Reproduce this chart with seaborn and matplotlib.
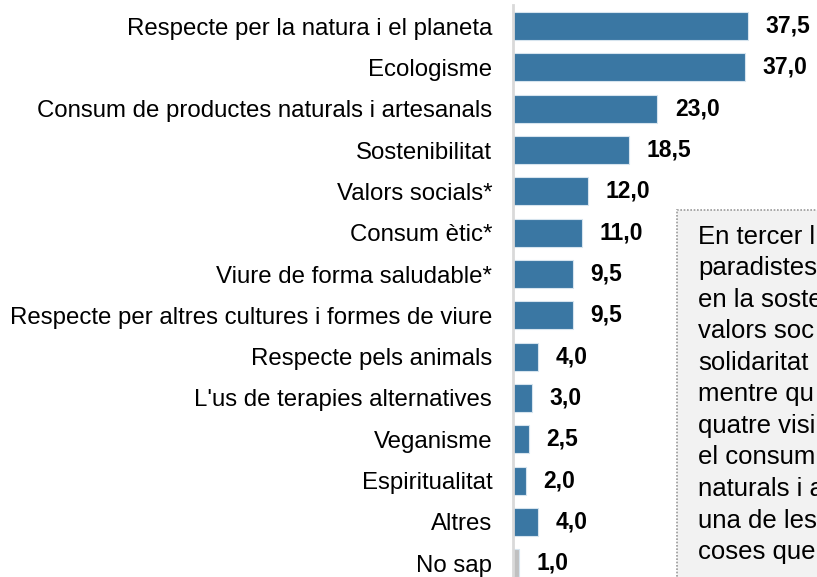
import seaborn as sns
import matplotlib.pyplot as plt
import matplotlib.patches as mpatches
import pandas as pd

# data
categories = ["Respecte per la natura i el planeta", "Ecologisme",
              "Consum de productes naturals i artesanals", "Sostenibilitat",
              "Valors socials*", "Consum ètic*", "Viure de forma saludable*",
              "Respecte per altres cultures i formes de viure",
              "Respecte pels animals", "L'us de terapies alternatives",
              "Veganisme", "Espiritualitat", "Altres", "No sap"]
values = [37.5, 37.0, 23.0, 18.5, 12.0, 11.0, 9.5, 9.5, 4.0, 3.0, 2.5, 2.0, 4.0, 1.0]
groups = ["a"] * 13 + ["b"]
# the note is cropped by the right edge in the original picture
note_lines = ["En tercer l", "paradistes", "en la soste", "valors soc",
              "solidaritat", "mentre qu", "quatre visi", "el consum",
              "naturals i a", "una de les", "coses que"]

df = pd.DataFrame({"cat": categories, "val": values, "grp": groups})

sns.set_style("white")
plt.rcParams['font.family'] = ['Liberation Sans', 'DejaVu Sans']

fig = plt.figure(figsize=(8.17, 5.77), dpi=100)
ax = fig.add_axes([0.628, -0.012, 0.372, 1.0026])

sns.barplot(data=df, x="val", y="cat", hue="grp", orient="h", dodge=False,
            palette={"a": "#3a77a3", "b": "#c0c0c0"}, saturation=1, width=0.68,
            edgecolor="#d6e4ee", linewidth=0.8, legend=False, ax=ax)

ax.set_xlim(0, 48.5)
ax.set_ylim(len(categories) - 0.5, -0.5)
ax.set_xlabel("")
ax.set_ylabel("")
ax.set_xticks([])
ax.tick_params(axis="y", length=0, labelsize=17.3, pad=15, labelcolor="black")
for s in ["top", "right", "bottom"]:
    ax.spines[s].set_visible(False)
ax.spines["left"].set_color("#d9d9d9")
ax.spines["left"].set_linewidth(2)

for i, v in enumerate(values):
    ax.text(v + 2.8, i, f"{v:.1f}".replace(".", ","), va="center", ha="left",
            fontsize=16.5, fontweight="bold", color="black")

# side note box (cut off by the figure edge)
fig.patches.append(mpatches.Rectangle((677 / 817, -0.1), 0.3, 1 - 210 / 577 + 0.1,
                                      transform=fig.transFigure, facecolor="#f2f2f2",
                                      edgecolor="#9a9a9a", linestyle=(0, (1, 1)),
                                      linewidth=1.2, zorder=0))
for k, line in enumerate(note_lines):
    fig.text(698 / 817, 1 - (244 + k * 31.5) / 577, line, fontsize=18.5,
             color="black", va="baseline", ha="left")

fig.savefig("out.png", dpi=100)
